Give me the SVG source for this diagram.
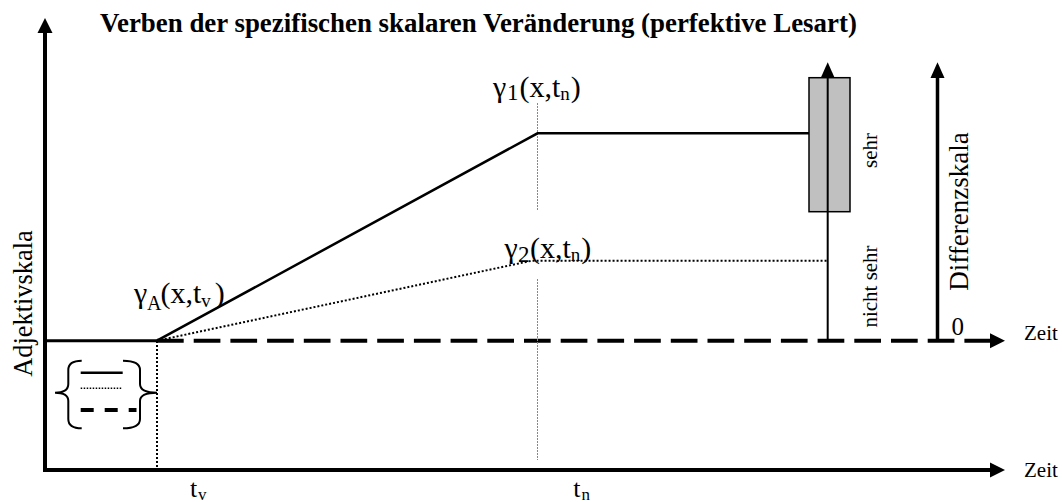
<svg xmlns="http://www.w3.org/2000/svg" width="1062" height="502" viewBox="0 0 1062 502">
<style>
text{font-family:"Liberation Serif","Times New Roman",serif;fill:#000}
.title{font-size:26.9px;font-weight:bold}
.lab{font-size:30px}
.sub{font-size:19px}
.rot{font-size:21px}
.zeit{font-size:21px}
.axis{stroke:#000;stroke-width:4;fill:none}
.ln{stroke:#000;stroke-width:2.5;fill:none}
.dot{stroke:#000;stroke-width:2;stroke-dasharray:2 2;fill:none}
.dash{stroke:#000;stroke-width:4;stroke-dasharray:26.7 10;fill:none}
.grey{stroke:#888;stroke-width:1;stroke-dasharray:2 1;fill:none}
.head{fill:#000}
</style>
<rect width="1062" height="502" fill="#fff"/>
<g id="title"><text class="title" x="100" y="31.7">Verben der spezifischen skalaren Veränderung (perfektive Lesart)</text></g>
<g id="connectors">
<line class="axis" x1="45" y1="30" x2="45" y2="472"/>
<polygon class="head" points="45,18 37.5,33 52.5,33"/>
<line class="axis" x1="43" y1="470" x2="992" y2="470"/>
<polygon class="head" points="1005,470 990,462.5 990,477.5"/>
<line class="ln" x1="45" y1="340.7" x2="157" y2="340.7" style="stroke-width:3"/>
<line class="dash" x1="157" y1="340.7" x2="992" y2="340.7"/>
<polygon class="head" points="1005,340.7 990,333.2 990,348.2"/>
<line class="dot" x1="157" y1="341" x2="157" y2="470"/>
<line class="grey" x1="537.5" y1="103" x2="537.5" y2="210"/>
<line class="grey" x1="537.5" y1="279" x2="537.5" y2="460"/>
<polyline class="ln" points="157,340.7 537.5,133.3 827.7,133.3"/>
<polyline class="dot" points="157,340.7 531.7,260.7 827.7,260.7"/>
</g>
<g id="scale-box">
<rect x="809" y="77.7" width="41" height="134" fill="#c0c0c0" stroke="#000" stroke-width="1.5"/>
<line x1="827.7" y1="76" x2="827.7" y2="341" stroke="#000" stroke-width="2"/>
<polygon class="head" points="827.7,62.3 820.7,78 834.7,78"/>
</g>
<g id="diff-axis">
<line x1="937.5" y1="76" x2="937.5" y2="340" stroke="#000" stroke-width="3.5"/>
<polygon class="head" points="937.5,62.3 930.5,78 944.5,78"/>
</g>
<g id="legend">
<path d="M81.7,360.7 Q68.3,360.7 68.3,370 L68.3,384 Q68.3,392.7 55,392.7 Q68.3,392.7 68.3,401 L68.3,419 Q68.3,428.3 81.7,428.3" fill="none" stroke="#000" stroke-width="2"/>
<path d="M123,360.7 Q140,360.7 140,370 L140,384 Q140,392.7 157,392.7 Q140,392.7 140,401 L140,419 Q140,428.3 123,428.3" fill="none" stroke="#000" stroke-width="2"/>
<line x1="80.7" y1="372.7" x2="122.7" y2="372.7" stroke="#000" stroke-width="2.5"/>
<line x1="80.7" y1="388.3" x2="122.7" y2="388.3" stroke="#000" stroke-width="1.4" stroke-dasharray="1.5 1.5"/>
<line x1="80.7" y1="410" x2="136.5" y2="410" stroke="#000" stroke-width="4" stroke-dasharray="13 11"/>
</g>
<g id="labels">
<text class="lab" x="493" y="96.7">γ<tspan style="font-size:23px" x="507" y="100">1</tspan><tspan x="519.5" y="96.7">(x,t</tspan><tspan class="sub" y="99.5">n</tspan><tspan dx="1" y="96.7">)</tspan></text>
<text class="lab" x="504.5" y="258.3">γ<tspan style="font-size:23px" x="518" y="262">2</tspan><tspan x="530" y="258.3">(x,t</tspan><tspan class="sub" y="261">n</tspan><tspan dx="1" y="258.3">)</tspan></text>
<text class="lab" x="134" y="303.3">γ<tspan style="font-size:20px" x="147" y="310">A</tspan><tspan x="160.5" y="303.3">(x,t</tspan><tspan class="sub" y="307">v</tspan><tspan dx="4" y="303.3">)</tspan></text>
<text style="font-size:26px" x="190" y="496.7">t<tspan style="font-size:17px" x="198" y="500">v</tspan></text>
<text style="font-size:26px" x="573.3" y="496.7">t<tspan style="font-size:17px" x="581.5" y="499.5">n</tspan></text>
<text class="zeit" x="1024" y="340">Zeit</text>
<text class="zeit" x="1024" y="476.7">Zeit</text>
<text style="font-size:25px" x="951.5" y="335">0</text>
<text class="rot" text-anchor="middle" transform="translate(877,150.5) rotate(-90)">sehr</text>
<text class="rot" text-anchor="middle" transform="translate(877,286.5) rotate(-90)">nicht sehr</text>
<text style="font-size:27px" text-anchor="middle" transform="translate(968,211.5) rotate(-90)">Differenzskala</text>
<text style="font-size:26.4px" text-anchor="middle" transform="translate(32,303.5) rotate(-90)">Adjektivskala</text>
</g>
</svg>
